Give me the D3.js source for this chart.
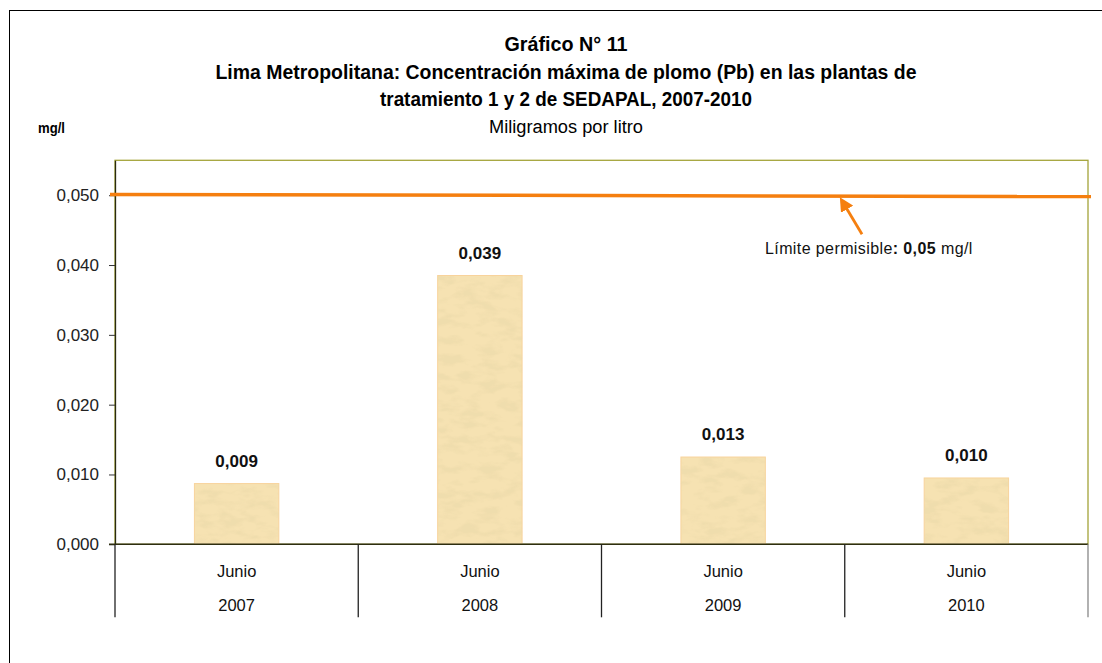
<!DOCTYPE html>
<html>
<head>
<meta charset="utf-8">
<script src="https://cdn.jsdelivr.net/npm/d3@7"></script>
<style>
  body { margin: 0; background: #fff; }
  svg text { font-family: "Liberation Sans", Arial, sans-serif; }
  .narrow { font-family: "Liberation Sans Narrow", "Arial Narrow", "Liberation Sans", sans-serif !important; }
</style>
</head>
<body>
<div id="chart"></div>
<script>
var categories = ["2007", "2008", "2009", "2010"];
var months = ["Junio", "Junio", "Junio", "Junio"];
var values = [0.0087, 0.0385, 0.0125, 0.0095];
var valueLabels = ["0,009", "0,039", "0,013", "0,010"];
var yTicks = [0, 0.01, 0.02, 0.03, 0.04, 0.05];
var limite = 0.05;

var width = 1102, height = 663;

var svg = d3.select("#chart").append("svg")
    .attr("width", width)
    .attr("height", height);

// outer frame
svg.append("rect")
    .attr("x", 9.5).attr("y", 10.5)
    .attr("width", 1200).attr("height", 1000)
    .attr("fill", "none").attr("stroke", "#000");

var defs = svg.append("defs");

// papyrus-like texture: soft noise laid over a tan fill
var tex = defs.append("filter")
    .attr("id", "papiro")
    .attr("x", 0).attr("y", 0).attr("width", 1).attr("height", 1);
tex.append("feTurbulence")
    .attr("type", "fractalNoise")
    .attr("baseFrequency", "0.05 0.11")
    .attr("numOctaves", 3)
    .attr("seed", 7)
    .attr("result", "noise");
tex.append("feColorMatrix")
    .attr("in", "noise")
    .attr("type", "matrix")
    .attr("values", "0 0 0 0 0.84  0 0 0 0 0.70  0 0 0 0 0.40  4 0 0 0 -1.75")
    .attr("result", "col");
tex.append("feComposite")
    .attr("in", "col")
    .attr("in2", "SourceGraphic")
    .attr("operator", "in");

var plotLeft = 115, plotRight = 1088, plotBottom = 544.3;

var x = d3.scaleBand()
    .domain(categories)
    .range([plotLeft, plotRight])
    .paddingInner(0)
    .paddingOuter(0);

var y = d3.scaleLinear()
    .domain([0, 0.055])
    .range([plotBottom, plotBottom - 384]);

var plotTop = y(0.055);

// plot area border
svg.append("rect")
    .attr("x", plotLeft).attr("y", plotTop)
    .attr("width", plotRight - plotLeft).attr("height", plotBottom - plotTop)
    .attr("fill", "none").attr("stroke", "#A4A43A").attr("stroke-width", 1.3);

// bars
var barW = x.bandwidth() * 0.347;
function barX(d, i) { return x(categories[i]) + x.bandwidth() / 2 - barW / 2; }

svg.selectAll(".bar")
    .data(values)
    .enter()
    .append("rect")
    .attr("class", "bar")
    .attr("x", barX)
    .attr("y", function(d) { return y(d); })
    .attr("width", barW)
    .attr("height", function(d) { return y(0) - y(d); })
    .attr("fill", "#F6E2B2")
    .attr("stroke", "#F8D39C")
    .attr("stroke-width", 1);

svg.selectAll(".bartex")
    .data(values)
    .enter()
    .append("rect")
    .attr("class", "bartex")
    .attr("x", barX)
    .attr("y", function(d) { return y(d) + 0.5; })
    .attr("width", barW)
    .attr("height", function(d) { return y(0) - y(d) - 1; })
    .attr("fill", "#000")
    .attr("opacity", 0.6)
    .attr("filter", "url(#papiro)");

// value labels
svg.selectAll(".vlab")
    .data(values)
    .enter()
    .append("text")
    .attr("class", "vlab")
    .attr("x", function(d, i) { return x(categories[i]) + x.bandwidth() / 2; })
    .attr("y", function(d) { return y(d) - 17; })
    .attr("text-anchor", "middle")
    .attr("font-size", 17)
    .attr("font-weight", "bold")
    .attr("fill", "#111")
    .text(function(d, i) { return valueLabels[i]; });

// y axis
var yAxis = d3.axisLeft(y)
    .tickValues(yTicks)
    .tickSize(6)
    .tickSizeOuter(0)
    .tickPadding(10)
    .tickFormat(function(d) { return d3.format(".3f")(d).replace(".", ","); });

var gy = svg.append("g")
    .attr("transform", "translate(" + plotLeft + ",0)")
    .call(yAxis);
gy.select(".domain").attr("stroke", "#2a2a10").attr("stroke-width", 1.3);
gy.selectAll(".tick line").attr("stroke", "#333");
gy.selectAll(".tick text")
    .attr("font-size", 17)
    .attr("fill", "#222")
    .style("font-family", "'Liberation Sans', Arial, sans-serif");

// baseline
svg.append("line")
    .attr("x1", plotLeft - 6).attr("x2", plotRight)
    .attr("y1", y(0)).attr("y2", y(0))
    .attr("stroke", "#2e2e10").attr("stroke-width", 1.5);

// category dividers below baseline
var dividers = categories.map(function(c) { return x(c); }).concat([plotRight]);
svg.selectAll(".div")
    .data(dividers)
    .enter()
    .append("line")
    .attr("x1", function(d) { return d; })
    .attr("x2", function(d) { return d; })
    .attr("y1", y(0))
    .attr("y2", y(0) + 73)
    .attr("stroke", function(d, i) { return i === dividers.length - 1 ? "#888" : "#222"; })
    .attr("stroke-width", 1.3);

// category labels
svg.selectAll(".mlab")
    .data(categories)
    .enter()
    .append("text")
    .attr("x", function(d) { return x(d) + x.bandwidth() / 2; })
    .attr("y", y(0) + 33)
    .attr("text-anchor", "middle")
    .attr("font-size", 16.5)
    .attr("fill", "#111")
    .text(function(d, i) { return months[i]; });

svg.selectAll(".ylab")
    .data(categories)
    .enter()
    .append("text")
    .attr("x", function(d) { return x(d) + x.bandwidth() / 2; })
    .attr("y", y(0) + 67)
    .attr("text-anchor", "middle")
    .attr("font-size", 16.5)
    .attr("fill", "#111")
    .text(function(d) { return d; });

// limit line (slightly tilted like the original)
svg.append("line")
    .attr("x1", plotLeft - 5).attr("x2", plotRight + 3)
    .attr("y1", y(limite + 0.0001)).attr("y2", y(limite - 0.0002))
    .attr("stroke", "#F57F0F")
    .attr("stroke-width", 3.5);

// arrow annotation
defs.append("marker")
    .attr("id", "flecha")
    .attr("viewBox", "0 0 10 10")
    .attr("refX", 7).attr("refY", 5)
    .attr("markerWidth", 5).attr("markerHeight", 5)
    .attr("orient", "auto")
    .append("path")
    .attr("d", "M0,0 L10,5 L0,10 z")
    .attr("fill", "#F57F0F");

svg.append("line")
    .attr("x1", 862).attr("y1", y(0.0444))
    .attr("x2", 842).attr("y2", y(0.0492))
    .attr("stroke", "#F57F0F")
    .attr("stroke-width", 2.8)
    .attr("marker-end", "url(#flecha)");

var ann = svg.append("text")
    .attr("x", 765).attr("y", 254)
    .attr("font-size", 16)
    .attr("letter-spacing", 0.4)
    .attr("fill", "#111");
ann.append("tspan").text("Límite permisible");
ann.append("tspan").attr("font-weight", "bold").text(": 0,05");
ann.append("tspan").text(" mg/l");

// titles
var cx = 566;
function titulo(txt, yy, len, bold, size) {
    svg.append("text")
        .attr("class", "narrow")
        .attr("x", cx).attr("y", yy)
        .attr("text-anchor", "middle")
        .attr("font-size", size)
        .attr("font-weight", bold ? "bold" : "normal")
        .attr("textLength", len)
        .attr("lengthAdjust", "spacingAndGlyphs")
        .attr("fill", "#000")
        .text(txt);
}
titulo("Gráfico N° 11", 51, 123, true, 20);
titulo("Lima Metropolitana: Concentración máxima de plomo (Pb) en las plantas de", 78.5, 701, true, 20);
titulo("tratamiento 1 y 2 de SEDAPAL, 2007-2010", 105.5, 372, true, 20);
titulo("Miligramos por litro", 132.5, 154, false, 18);

svg.append("text")
    .attr("class", "narrow")
    .attr("x", 38).attr("y", 133)
    .attr("font-size", 15)
    .attr("font-weight", "bold")
    .attr("textLength", 27)
    .attr("lengthAdjust", "spacingAndGlyphs")
    .text("mg/l");
</script>
</body>
</html>
